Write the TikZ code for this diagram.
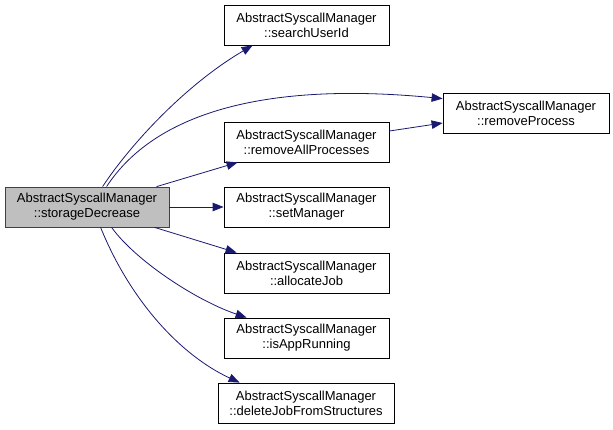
\documentclass[tikz,border=0pt]{standalone}
\usepackage{fontspec}
\setmainfont{Liberation Sans}
\usetikzlibrary{arrows.meta,calc}
\definecolor{edgeblue}{RGB}{25,25,112}
\definecolor{hlgray}{RGB}{191,191,191}
\definecolor{hlborder}{RGB}{64,64,64}
\tikzset{
  fn/.style={draw=black, fill=white, line width=0.8bp, inner sep=0pt,
    minimum width=165bp, minimum height=40bp, align=center,
    font=\fontsize{13bp}{15bp}\selectfont},
  cur/.style={fn, fill=hlgray, draw=hlborder},
  call/.style={draw=edgeblue, line width=0.8bp,
    -{Triangle[length=11bp,width=8.5bp,fill=edgeblue]}}
}
\begin{document}
\begin{tikzpicture}[x=1bp,y=-1bp]
\useasboundingbox (0,0) rectangle (613,429);
\node[cur, minimum width=164bp] (sd) at (87,207) {AbstractSyscallManager\\::storageDecrease};
\node[fn] (su) at (306.5,25) {AbstractSyscallManager\\::searchUserId};
\node[fn] (rap) at (306.5,142) {AbstractSyscallManager\\::removeAllProcesses};
\node[fn, minimum width=166bp] (rp) at (526,113) {AbstractSyscallManager\\::removeProcess};
\node[fn] (sm) at (306.5,207) {AbstractSyscallManager\\::setManager};
\node[fn] (aj) at (306.5,273) {AbstractSyscallManager\\::allocateJob};
\node[fn] (iar) at (306.5,338) {AbstractSyscallManager\\::isAppRunning};
\node[fn, minimum width=176bp] (dj) at (306,403) {AbstractSyscallManager\\::deleteJobFromStructures};

\draw[call] ($(sd.north west)+(98,0)$) .. controls (130,145) and (185,85) .. ($(su.south west)+(29,0)$);
\draw[call] ($(sd.north west)+(102,0)$) .. controls (150,120) and (250,80) .. ($(rp.north west)+(0,6)$);
\draw[call] ($(sd.north west)+(152,0)$) -- ($(rap.south west)+(14,0)$);
\draw[call] (sd.east) -- (sm.west);
\draw[call] ($(sd.south west)+(150,0)$) -- ($(aj.north west)+(13,0)$);
\draw[call] ($(sd.south west)+(107,0)$) .. controls (135,260) and (195,300) .. ($(iar.north west)+(23,0)$);
\draw[call] ($(sd.south west)+(96,0)$) .. controls (130,300) and (180,355) .. ($(dj.north west)+(22,0)$);
\draw[call] ($(rap.east)+(0,-11)$) -- ($(rp.west)+(0,10)$);
\end{tikzpicture}
\end{document}
